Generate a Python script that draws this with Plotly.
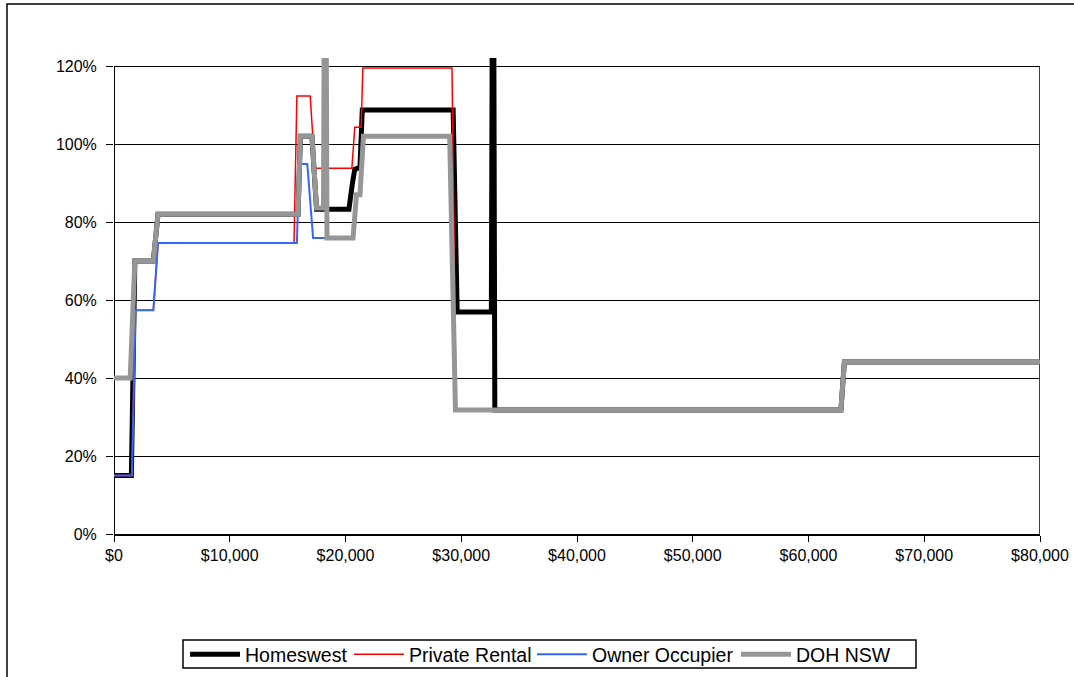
import plotly.graph_objects as go

# ---- data (income $, effective marginal rate as fraction) ----
homeswest_x = [0, 1500, 1800, 3400, 3800, 15900, 16100, 17100, 17500, 20300, 20600, 20800,
               21250, 21450, 29300, 29650, 32600, 32750, 32900, 62800, 63100, 80000]
homeswest_y = [0.15, 0.15, 0.70, 0.70, 0.82, 0.82, 1.02, 1.02, 0.833, 0.833, 0.90, 0.935,
               0.94, 1.087, 1.087, 0.569, 0.569, 2.0, 0.318, 0.318, 0.441, 0.441]

private_x = [0, 1550, 1850, 3400, 3800, 15550, 15800, 16950, 17350, 20550, 20800, 21350,
             21500, 29200, 29550, 62800, 63100, 80000]
private_y = [0.15, 0.15, 0.574, 0.574, 0.746, 0.746, 1.123, 1.123, 0.938, 0.938, 1.043, 1.043,
             1.195, 1.195, 0.318, 0.318, 0.441, 0.441]

owner_x = [0, 1550, 1850, 3400, 3800, 15800, 16000, 16700, 17200, 20650, 20950, 21250,
           21550, 29000, 29500, 62800, 63100, 80000]
owner_y = [0.15, 0.15, 0.574, 0.574, 0.746, 0.746, 0.949, 0.949, 0.759, 0.759, 0.87, 0.87,
           1.02, 1.02, 0.318, 0.318, 0.441, 0.441]

doh_x = [0, 1400, 1800, 3400, 3800, 15900, 16100, 17100, 17500, 18100, 18250, 18400, 20650,
         20950, 21250, 21550, 29000, 29500, 62800, 63100, 80000]
doh_y = [0.40, 0.40, 0.70, 0.70, 0.82, 0.82, 1.02, 1.02, 0.836, 0.836, 2.0, 0.759, 0.759,
         0.87, 0.87, 1.02, 1.02, 0.318, 0.318, 0.441, 0.441]

x_ticks = [0, 10000, 20000, 30000, 40000, 50000, 60000, 70000, 80000]
x_labels = ["$0", "$10,000", "$20,000", "$30,000", "$40,000", "$50,000", "$60,000", "$70,000", "$80,000"]
y_ticks = [0, 0.2, 0.4, 0.6, 0.8, 1.0, 1.2]
y_labels = ["0%", "20%", "40%", "60%", "80%", "100%", "120%"]

FONT = "Arial, Liberation Sans, sans-serif"

L, R, T, B = 114, 34, 58, 143
W, H = 1074, 677
pw = W - L - R
ph = H - T - B
ytop = 1.2 + 8 / 390.0


def px_x(p):
    return (p - L) / pw


def px_y(p):
    return (H - B - p) / ph


fig = go.Figure()
fig.add_trace(go.Scatter(x=homeswest_x, y=homeswest_y, mode="lines", name="Homeswest",
                         line=dict(color="#000000", width=5), legend="legend"))
fig.add_trace(go.Scatter(x=private_x, y=private_y, mode="lines", name="Private Rental",
                         line=dict(color="#FF0000", width=1.5), legend="legend2"))
fig.add_trace(go.Scatter(x=owner_x, y=owner_y, mode="lines", name="Owner Occupier",
                         line=dict(color="#3366FF", width=2), legend="legend3"))
fig.add_trace(go.Scatter(x=doh_x, y=doh_y, mode="lines", name="DOH NSW",
                         line=dict(color="#969696", width=5), legend="legend4"))


def leg(px_left):
    return dict(orientation="h", x=px_x(px_left), xanchor="left",
                y=px_y(635), yanchor="top", borderwidth=0, bgcolor="rgba(0,0,0,0)",
                font=dict(family=FONT, size=19.5, color="black"), itemwidth=50)


fig.update_layout(
    width=W, height=H, autosize=False,
    margin=dict(l=L, r=R, t=T, b=B, pad=0, autoexpand=False),
    paper_bgcolor="white", plot_bgcolor="white",
    font=dict(family=FONT, size=16, color="black"),
    showlegend=True,
    legend=leg(185), legend2=leg(349), legend3=leg(532), legend4=leg(736),
    xaxis=dict(range=[0, 80000], tickvals=x_ticks, ticktext=x_labels,
               showgrid=False, zeroline=False, showline=True, linecolor="black", linewidth=2,
               ticks="outside", ticklen=6, tickcolor="black", tickwidth=1,
               tickfont=dict(family=FONT, size=16, color="black"), fixedrange=True),
    yaxis=dict(range=[0, ytop], tickvals=y_ticks, ticktext=y_labels,
               showgrid=True, gridcolor="black", gridwidth=1, zeroline=False, showline=False,
               ticks="outside", ticklen=7, tickcolor="black", tickwidth=1, ticklabelstandoff=6,
               tickfont=dict(family=FONT, size=16, color="black"), fixedrange=True),
)

# axis / plot-area border lines
fig.add_shape(type="line", xref="x", yref="y", x0=0, x1=0, y0=0, y1=1.2,
              line=dict(color="black", width=2), layer="below")
fig.add_shape(type="line", xref="x", yref="y", x0=80000, x1=80000, y0=0, y1=1.2,
              line=dict(color="black", width=1.5), layer="below")
# legend box
fig.add_shape(type="rect", xref="paper", yref="paper",
              x0=px_x(183), x1=px_x(916), y0=px_y(668), y1=px_y(640),
              line=dict(color="black", width=1.5), fillcolor="rgba(0,0,0,0)", layer="above")
# outer chart border (partly off-page)
fig.add_shape(type="rect", xref="paper", yref="paper",
              x0=px_x(7), x1=1.3, y0=-0.6, y1=px_y(4),
              line=dict(color="black", width=1.5), fillcolor="rgba(0,0,0,0)", layer="below")

fig.write_html("out.html")
